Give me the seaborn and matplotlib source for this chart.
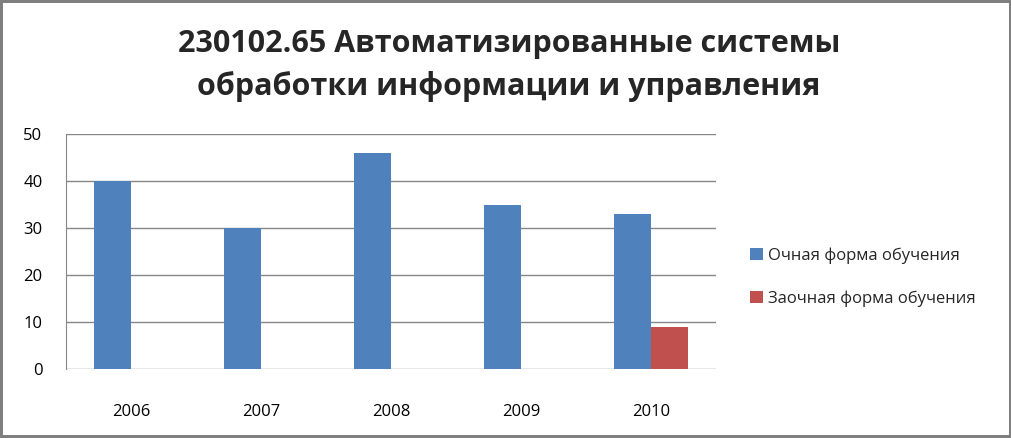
import numpy as np
import pandas as pd
import matplotlib.pyplot as plt
import seaborn as sns

# Data
years = ['2006', '2007', '2008', '2009', '2010']
full_time = [40, 30, 46, 35, 33]
part_time = [np.nan, np.nan, np.nan, np.nan, 9]
series_names = ['Очная форма обучения', 'Заочная форма обучения']
colors = ['#4F81BD', '#C0504D']
title = '230102.65 Автоматизированные системы\nобработки информации и управления'

df = pd.DataFrame({
    'year': years * 2,
    'value': full_time + part_time,
    'form': [series_names[0]] * len(years) + [series_names[1]] * len(years),
})

sns.set_style('white')
plt.rcParams['font.family'] = ['Open Sans', 'DejaVu Sans']

fig = plt.figure(figsize=(10.12, 4.38), dpi=100)
fig.patch.set_edgecolor('#7f7f7f')
fig.patch.set_linewidth(3)
ax = fig.add_axes([66 / 1012, 1 - 369 / 438, 650 / 1012, 235 / 438])

sns.barplot(data=df, x='year', y='value', hue='form', palette=colors,
            width=0.57, saturation=1, linewidth=0, edgecolor='none',
            ax=ax, zorder=3)

ax.set_ylim(0, 50)
ax.set_yticks(range(0, 51, 10))
ax.yaxis.grid(True, color='#868686', linewidth=1, zorder=0)
ax.set_axisbelow(True)
ax.set_xlabel('')
ax.set_ylabel('')
for s in ['top', 'right', 'bottom']:
    ax.spines[s].set_visible(False)
ax.spines['left'].set_color('#868686')
ax.tick_params(axis='both', length=0, labelsize=12, colors='black')
ax.tick_params(axis='x', pad=25)
ax.tick_params(axis='y', pad=17)

ax.legend(loc='center left', bbox_to_anchor=(1.03, 0.39), frameon=False,
          fontsize=12, handlelength=0.75, handleheight=0.75,
          handletextpad=0.3, labelspacing=1.6)

fig.text(0.503, 0.85, title, ha='center', va='center', fontsize=22,
         fontweight='bold', linespacing=1.5)

fig.savefig('out.png', dpi=100)
